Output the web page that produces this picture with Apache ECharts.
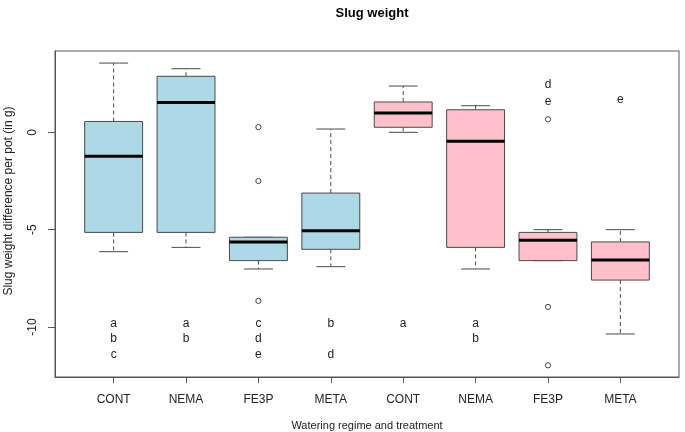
<!DOCTYPE html>
<html>
<head>
<meta charset="utf-8">
<script src="https://cdn.jsdelivr.net/npm/echarts@6/dist/echarts.min.js"></script>
<style>html,body{margin:0;padding:0;background:#fff}#c{width:685px;height:432px}</style>
</head>
<body>
<div id="c"></div>
<script>
const categories = ['CONT','NEMA','FE3P','META','CONT','NEMA','FE3P','META'];
const groupColour = ['#ADD8E6','#ADD8E6','#ADD8E6','#ADD8E6','#FFC0CB','#FFC0CB','#FFC0CB','#FFC0CB'];
const lowWhisker  = [-6.13, -5.91, -7.02, -6.90, 0.00, -7.02, -6.59, -10.36];
const q1          = [-5.14, -5.14, -6.59, -6.01, 0.26, -5.91, -6.59, -7.59];
const median      = [-1.23,  1.54, -5.63, -5.05, 0.99, -0.46, -5.55, -6.56];
const q3          = [ 0.56,  2.88, -5.39, -3.12, 1.56,  1.16, -5.14, -5.63];
const highWhisker = [ 3.56,  3.27, -5.39,  0.17, 2.38,  1.37, -5.00, -5.00];
const outlierGroup = [3, 3, 3, 7, 7, 7];
const outlierValue = [0.27, -2.50, -8.66, 0.67, -8.97, -11.97];
const letterGroup = [1, 1, 1, 2, 2, 3, 3, 3, 4, 4, 5, 6, 6, 7, 7, 8];
const letterValue = [-9.81, -10.61, -11.43, -9.81, -10.61, -9.81, -10.61, -11.43, -9.81, -11.43, -9.81, -9.81, -10.61, 2.43, 1.57, 1.68];
const letterText  = ['a','b','c','a','b','c','d','e','b','d','a','a','b','d','e','e'];
const yTicks = [-10, -5, 0];
const xTicks = [1, 2, 3, 4, 5, 6, 7, 8];

const boxData = categories.map((c, i) => [i + 1, lowWhisker[i], q1[i], median[i], q3[i], highWhisker[i], i]);
const outlierData = outlierGroup.map((g, i) => [g, outlierValue[i]]);
const letterData = letterGroup.map((g, i) => [g, letterValue[i]]);

const FONT = 'Liberation Sans, Arial, sans-serif';
const chart = echarts.init(document.getElementById('c'), null, {renderer: 'canvas'});
chart.setOption({
  animation: false,
  backgroundColor: '#fff',
  title: {text: 'Slug weight', left: 367, textAlign: 'center', top: 2,
    textStyle: {fontFamily: FONT, fontSize: 13, fontWeight: 'bold', color: '#000'}},
  grid: {left: 55, right: 6, top: 51, bottom: 55, show: true, borderColor: '#555', borderWidth: 1,
    containLabel: false, outerBoundsMode: 'none'},
  xAxis: {
    type: 'value', min: 0.19, max: 8.81,
    name: 'Watering regime and treatment', nameLocation: 'middle', nameGap: 43,
    nameTextStyle: {fontFamily: FONT, fontSize: 11, color: '#222'},
    axisLine: {show: true, onZero: false, lineStyle: {color: '#555'}},
    splitLine: {show: false},
    axisTick: {show: true, length: 6, customValues: xTicks, lineStyle: {color: '#555'}},
    axisLabel: {customValues: xTicks, margin: 17, formatter: v => categories[Math.round(v) - 1] || '',
      fontFamily: FONT, fontSize: 12, color: '#222'}
  },
  yAxis: {
    type: 'value', min: -12.57, max: 4.18,
    axisLine: {show: true, onZero: false, lineStyle: {color: '#555'}},
    splitLine: {show: false},
    axisTick: {show: true, length: 7, customValues: yTicks, lineStyle: {color: '#555'}},
    axisLabel: {customValues: yTicks, rotate: 90, margin: 16, fontFamily: FONT, fontSize: 12, color: '#222'}
  },
  graphic: [{
    type: 'text', x: 9, y: 201, rotation: Math.PI / 2,
    style: {text: 'Slug weight difference per pot (in g)', fontFamily: FONT, fontSize: 12, fill: '#222',
      textAlign: 'center', textVerticalAlign: 'middle'}
  }],
  series: [
    {
      type: 'custom',
      data: boxData,
      encode: {x: 0, y: [1, 2, 3, 4, 5]},
      renderItem: function (params, api) {
        const x = api.value(0);
        const lo = api.coord([x, api.value(1)]);
        const a = api.coord([x, api.value(2)]);
        const m = api.coord([x, api.value(3)]);
        const b = api.coord([x, api.value(4)]);
        const hi = api.coord([x, api.value(5)]);
        const w = api.size([0.8, 0])[0];
        const cx = lo[0];
        const fill = groupColour[api.value(6)];
        const stroke = '#4a4a4a';
        return {
          type: 'group',
          children: [
            {type: 'line', shape: {x1: cx, y1: b[1], x2: cx, y2: hi[1]}, style: {stroke: stroke, lineWidth: 1, lineDash: [4, 3]}},
            {type: 'line', shape: {x1: cx, y1: a[1], x2: cx, y2: lo[1]}, style: {stroke: stroke, lineWidth: 1, lineDash: [4, 3]}},
            {type: 'line', shape: {x1: cx - w / 4, y1: hi[1], x2: cx + w / 4, y2: hi[1]}, style: {stroke: stroke, lineWidth: 1}},
            {type: 'line', shape: {x1: cx - w / 4, y1: lo[1], x2: cx + w / 4, y2: lo[1]}, style: {stroke: stroke, lineWidth: 1}},
            {type: 'rect', shape: {x: cx - w / 2, y: b[1], width: w, height: a[1] - b[1]}, style: {fill: fill, stroke: stroke, lineWidth: 1}},
            {type: 'line', shape: {x1: cx - w / 2, y1: m[1], x2: cx + w / 2, y2: m[1]}, style: {stroke: '#000', lineWidth: 3}}
          ]
        };
      }
    },
    {
      type: 'custom',
      data: outlierData,
      encode: {x: 0, y: 1},
      renderItem: function (params, api) {
        const p = api.coord([api.value(0), api.value(1)]);
        return {type: 'circle', shape: {cx: p[0], cy: p[1], r: 2.6},
          style: {fill: '#fff', stroke: '#444', lineWidth: 1}};
      }
    },
    {
      type: 'custom',
      data: letterData,
      encode: {x: 0, y: 1},
      renderItem: function (params, api) {
        const p = api.coord([api.value(0), api.value(1)]);
        return {type: 'text', x: p[0], y: p[1],
          style: {text: letterText[params.dataIndex], fontFamily: FONT, fontSize: 12, fill: '#222',
            textAlign: 'center', textVerticalAlign: 'middle'}};
      }
    }
  ]
});
</script>
</body>
</html>
